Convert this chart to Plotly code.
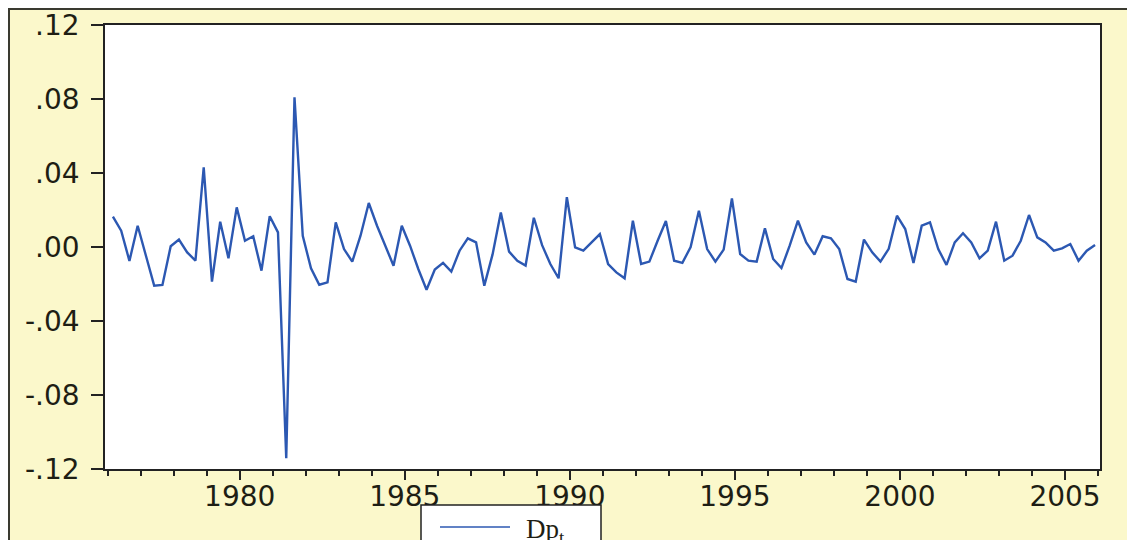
import numpy as np
import pandas as pd
import plotly.graph_objects as go

# Quarterly observations 1976Q1 .. 2005Q4
start_period = "1976Q1"
end_period = "2005Q4"

dp_values = [
    0.0164, 0.0088, -0.0075, 0.0115, -0.0047, -0.0209, -0.0205, 0.0004,
    0.0040, -0.0029, -0.0074, 0.0431, -0.0187, 0.0137, -0.0061, 0.0214,
    0.0034, 0.0058, -0.0128, 0.0166, 0.0079, -0.1142, 0.0809, 0.0060,
    -0.0115, -0.0204, -0.0191, 0.0133, -0.0011, -0.0079, 0.0061, 0.0238,
    0.0115, 0.0007, -0.0101, 0.0115, 0.0007, -0.0119, -0.0231, -0.0122,
    -0.0086, -0.0133, -0.0020, 0.0047, 0.0025, -0.0209, -0.0040, 0.0187,
    -0.0025, -0.0075, -0.0100, 0.0158, 0.0010, -0.0092, -0.0169, 0.0269,
    -0.0002, -0.0020, 0.0028, 0.0070, -0.0092, -0.0137, -0.0169, 0.0142,
    -0.0092, -0.0079, 0.0034, 0.0141, -0.0074, -0.0086, 0.0000, 0.0196,
    -0.0011, -0.0079, -0.0014, 0.0263, -0.0038, -0.0074, -0.0079, 0.0101,
    -0.0065, -0.0114, 0.0007, 0.0142, 0.0025, -0.0041, 0.0058, 0.0047,
    -0.0011, -0.0173, -0.0187, 0.0040, -0.0029, -0.0079, -0.0010, 0.0169,
    0.0097, -0.0086, 0.0115, 0.0133, -0.0011, -0.0097, 0.0025, 0.0074,
    0.0025, -0.0061, -0.0020, 0.0137, -0.0074, -0.0047, 0.0034, 0.0173,
    0.0052, 0.0025, -0.0020, -0.0007, 0.0016, -0.0074, -0.0020, 0.0011,
]

y_tickvals = [0.12, 0.08, 0.04, 0.00, -0.04, -0.08, -0.12]
y_ticktext = [".12", ".08", ".04", ".00", "-.04", "-.08", "-.12"]
series_name = "Dp<sub>t</sub>"

periods = pd.period_range(start_period, end_period, freq="Q")
x_years = np.array([p.year + (p.quarter - 1) / 4 + 0.16 for p in periods])

# The page body adds an 8 px offset; work in page pixels and convert.
OFF = 8
W, H = 1135 - OFF, 540 - OFF
PL, PR, PT, PB = 105, 1100, 25, 469          # plot area in page pixels
ML, MT = PL - OFF, PT - OFF
MR, MB = W - (PR - OFF), H - (PB - OFF)
pw, ph = PR - PL, PB - PT

def px_to_paper_x(px):
    return (px - PL) / pw

def px_to_paper_y(py):
    return (PB - py) / ph

yellow = "#FBF8CB"
text_col = "#1e1e14"
line_col = "#2C58B2"
frame_col = "#222222"

fig = go.Figure()
fig.add_trace(go.Scatter(
    x=x_years, y=dp_values, mode="lines", name=series_name,
    line=dict(color=line_col, width=2.4), showlegend=False,
))

shapes = []
# white strip right of the outer frame
shapes.append(dict(type="rect", xref="paper", yref="paper",
                   x0=px_to_paper_x(1130), x1=px_to_paper_x(1200),
                   y0=px_to_paper_y(600), y1=px_to_paper_y(-50),
                   fillcolor="white", line=dict(width=0), layer="below"))
# outer frame
shapes.append(dict(type="rect", xref="paper", yref="paper",
                   x0=px_to_paper_x(OFF + 1), x1=px_to_paper_x(1129),
                   y0=px_to_paper_y(600), y1=px_to_paper_y(OFF + 1),
                   fillcolor="rgba(0,0,0,0)", line=dict(color="#3a3a30", width=2),
                   layer="above"))
# legend box (cut by the page bottom, as in the reference)
shapes.append(dict(type="rect", xref="paper", yref="paper",
                   x0=px_to_paper_x(421), x1=px_to_paper_x(601),
                   y0=px_to_paper_y(570), y1=px_to_paper_y(505),
                   fillcolor="white", line=dict(color=frame_col, width=1.5),
                   layer="above"))
# legend key line
shapes.append(dict(type="line", xref="paper", yref="paper",
                   x0=px_to_paper_x(440), x1=px_to_paper_x(510),
                   y0=px_to_paper_y(527), y1=px_to_paper_y(527),
                   line=dict(color=line_col, width=1.5), layer="above"))

annotations = [dict(
    xref="paper", yref="paper",
    x=px_to_paper_x(524), y=px_to_paper_y(512),
    xanchor="left", yanchor="top", showarrow=False,
    text=series_name,
    font=dict(family="Liberation Serif", size=27, color=text_col),
)]

fig.update_layout(
    width=W, height=H,
    margin=dict(l=ML, r=MR, t=MT, b=MB, pad=0),
    paper_bgcolor=yellow,
    plot_bgcolor="white",
    shapes=shapes,
    annotations=annotations,
    showlegend=False,
    xaxis=dict(
        range=[1975.92, 2006.06], automargin=False,
        tickmode="linear", tick0=1980, dtick=5, tickformat="d",
        ticks="outside", ticklen=9, tickwidth=1.5, tickcolor=frame_col,
        showline=True, linecolor=frame_col, linewidth=1.5, mirror=True,
        showgrid=False, zeroline=False,
        minor=dict(tickmode="linear", tick0=1976, dtick=1, ticks="outside",
                   ticklen=5, tickwidth=1.5, tickcolor=frame_col, showgrid=False),
        tickfont=dict(family="DejaVu Sans", size=28, color=text_col),
        ticklabelstandoff=-7,
    ),
    yaxis=dict(
        range=[-0.12, 0.12], automargin=False,
        tickmode="array", tickvals=y_tickvals, ticktext=y_ticktext,
        ticks="outside", ticklen=12, tickwidth=1.5, tickcolor=frame_col,
        showline=True, linecolor=frame_col, linewidth=1.5, mirror=True,
        showgrid=False, zeroline=False,
        tickfont=dict(family="DejaVu Sans", size=28, color=text_col),
        ticklabelstandoff=6,
    ),
)

fig.write_html("out.html")
